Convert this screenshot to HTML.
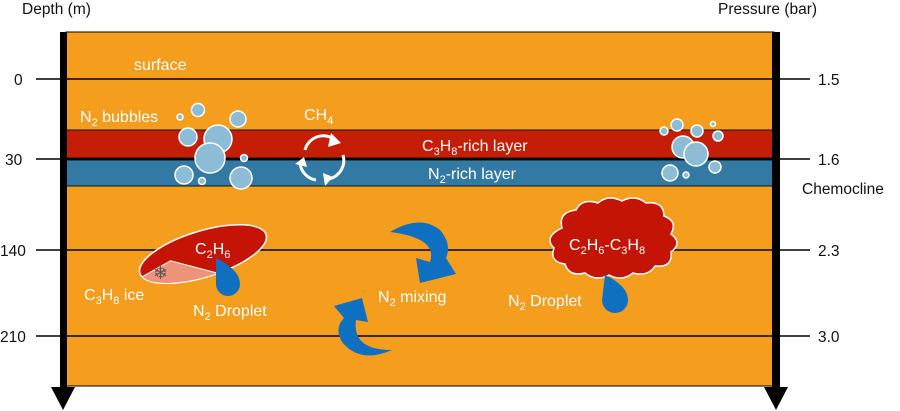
<!DOCTYPE html>
<html><head><meta charset="utf-8"><style>
html,body{margin:0;padding:0;background:#fff;}
svg{display:block;font-family:"Liberation Sans",sans-serif;}
</style></head><body>
<svg width="900" height="411" viewBox="0 0 900 411" xmlns="http://www.w3.org/2000/svg">
<rect x="66" y="32" width="708" height="354" fill="#F59E1E" stroke="#000" stroke-width="1"/>
<rect x="66" y="130" width="708" height="28" fill="#C51E06" stroke="#111" stroke-width="1"/>
<rect x="66" y="160" width="708" height="26" fill="#327AA3" stroke="#111" stroke-width="1"/>
<line x1="36" y1="79" x2="810" y2="79" stroke="#000" stroke-width="1.5"/>
<line x1="36" y1="159" x2="810" y2="159" stroke="#000" stroke-width="1.5"/>
<line x1="36" y1="250" x2="810" y2="250" stroke="#000" stroke-width="1.5"/>
<line x1="36" y1="336" x2="810" y2="336" stroke="#000" stroke-width="1.5"/>
<rect x="60" y="32" width="7" height="358" fill="#000"/>
<polygon points="51,387 75,387 63,410" fill="#000"/>
<rect x="772" y="32" width="8" height="358" fill="#000"/>
<polygon points="764,387 788,387 776,410" fill="#000"/>
<g font-size="15.5" fill="#111">
<text x="22" y="14">Depth (m)</text>
<text x="718" y="14">Pressure (bar)</text>
<text x="14" y="85">0</text><text x="5" y="165">30</text><text x="0" y="256">140</text><text x="0" y="342">210</text>
<text x="818" y="85">1.5</text><text x="818" y="165">1.6</text><text x="818" y="256">2.3</text><text x="818" y="342">3.0</text>
<text x="802" y="194">Chemocline</text>
</g>
<g fill="#fff" font-size="16">
<text x="134" y="70">surface</text>
<text x="80" y="122">N<tspan font-size="11" dy="4">2</tspan><tspan dy="-4"> bubbles</tspan></text>
<text x="304" y="120">CH<tspan font-size="11" dy="4">4</tspan></text>
<text x="422" y="151">C<tspan font-size="11" dy="4">3</tspan><tspan dy="-4">H</tspan><tspan font-size="11" dy="4">8</tspan><tspan dy="-4">-rich layer</tspan></text>
<text x="428" y="179">N<tspan font-size="11" dy="4">2</tspan><tspan dy="-4">-rich layer</tspan></text>
<text x="378" y="302">N<tspan font-size="11" dy="4">2</tspan><tspan dy="-4"> mixing</tspan></text>
<text x="84" y="300">C<tspan font-size="11" dy="4">3</tspan><tspan dy="-4">H</tspan><tspan font-size="11" dy="4">8</tspan><tspan dy="-4"> ice</tspan></text>
<text x="193" y="316">N<tspan font-size="11" dy="4">2</tspan><tspan dy="-4"> Droplet</tspan></text>
<text x="508" y="306">N<tspan font-size="11" dy="4">2</tspan><tspan dy="-4"> Droplet</tspan></text>
</g>
<!-- CH4 cycle -->
<g fill="none" stroke="#fff" stroke-width="3">
<path d="M305,150 A19,19 0 0 1 334,139"/>
<path d="M343,155 A19,19 0 0 1 329,179"/>
<path d="M316,180 A19,19 0 0 1 300,163"/>
</g>
<g fill="#fff"><polygon points="331,133 341,143 328,147"/><polygon points="323,173 333,177 325,186"/><polygon points="295,164 304,157 307,167"/></g>
<!-- bubbles -->
<g fill="#8DBCD7" stroke="#fff" stroke-width="1.5">
<circle cx="180" cy="117" r="3"/><circle cx="198" cy="110" r="6.5"/><circle cx="238" cy="119" r="8"/>
<circle cx="188" cy="137" r="9"/><circle cx="218" cy="139" r="14"/><circle cx="210" cy="158" r="15"/>
<circle cx="244" cy="158" r="3.5"/><circle cx="184" cy="175" r="9"/><circle cx="202" cy="181" r="3.5"/><circle cx="241" cy="178" r="11"/>
<circle cx="664" cy="131" r="4"/><circle cx="677" cy="125" r="6"/><circle cx="697" cy="131" r="6"/><circle cx="713" cy="124" r="2.5"/>
<circle cx="718" cy="136" r="5"/><circle cx="683" cy="147" r="11"/><circle cx="696" cy="154" r="12"/>
<circle cx="715" cy="167" r="6"/><circle cx="670" cy="173" r="8"/><circle cx="686" cy="175" r="3"/>
</g>
<!-- ellipse C2H6 -->
<g transform="rotate(-17 203 254)">
<ellipse cx="203" cy="254" rx="66" ry="23" fill="#C51306" stroke="#fff" stroke-width="1.5"/>
<path d="M138,258 A66,23 0 0 0 212,277 L170,251 Z" fill="#EE9379" stroke="#fff" stroke-width="1"/>
</g>
<text x="195" y="254" fill="#fff" font-size="16">C<tspan font-size="11" dy="4">2</tspan><tspan dy="-4">H</tspan><tspan font-size="11" dy="4">6</tspan></text>
<text x="153" y="279" fill="#555" font-size="18">❄</text>
<path d="M216,258 Q240,270 240,284 A12,12 0 1 1 216,284 Z" fill="#0F6FC0"/>
<!-- cloud -->
<path d="M562,228 q-4,-16 14,-18 q6,-12 22,-7 q10,-9 24,-2 q13,-7 24,2 q18,-2 18,13 q14,5 7,18 q12,9 0,18 q2,16 -16,14 q-7,11 -22,7 q-11,9 -24,2 q-13,7 -24,-2 q-16,4 -20,-9 q-16,-2 -11,-16 q-11,-11 8,-20 Z" fill="#C41406" stroke="#fff" stroke-width="1.5"/>
<text x="569" y="250" fill="#fff" font-size="16">C<tspan font-size="11" dy="4">2</tspan><tspan dy="-4">H</tspan><tspan font-size="11" dy="4">6</tspan><tspan dy="-4">-C</tspan><tspan font-size="11" dy="4">3</tspan><tspan dy="-4">H</tspan><tspan font-size="11" dy="4">8</tspan></text>
<path d="M605,275 Q628,286 628,300 A13,13 0 1 1 602,300 Z" fill="#0F6FC0"/>
<!-- mixing arrows -->
<path d="M390,232 Q420,214 440,230 Q452,244 446,258 L456,274 L420,283 L416,258 L430,262 Q438,238 390,232 Z" fill="#0F6FC0"/>
<path d="M392,350 Q360,364 342,342 Q334,328 344,318 L334,306 L362,298 L368,322 L356,320 Q352,350 392,350 Z" fill="#0F6FC0"/>
</svg>
</body></html>
